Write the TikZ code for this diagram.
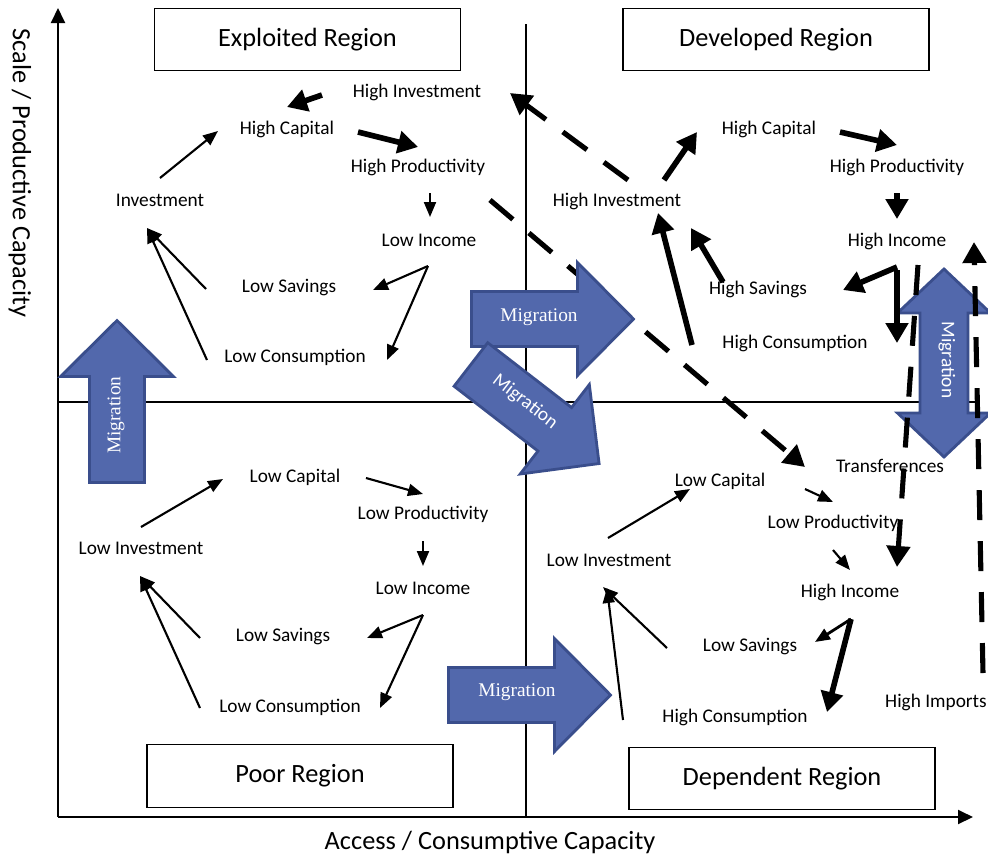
\documentclass[tikz,border=0pt]{standalone}
\usepackage{fontspec}
\setmainfont{Carlito}
\newfontfamily\timesfont{Liberation Serif}
\usetikzlibrary{arrows.meta,calc}
\definecolor{migfill}{HTML}{5268AC}
\definecolor{migedge}{HTML}{3A4E8C}

\begin{document}
\begin{tikzpicture}[x=0.02cm,y=-0.02cm,
  lbl/.style={font=\fontsize{11}{13}\selectfont,inner sep=1pt},
  region/.style={draw,line width=0.8pt,minimum width=6.12cm,minimum height=1.25cm,font=\fontsize{15}{18}\selectfont},
  axis/.style={line width=1.1pt,-{Triangle[length=0.3cm,width=0.28cm]}},
  tarrow/.style={line width=1.2pt,-{Triangle[length=0.3cm,width=0.24cm]}},
  barrow/.style={line width=3.2pt,-{Triangle[length=0.4cm,width=0.44cm]}},
  darrow/.style={line width=2.9pt,dash pattern=on 0.6cm off 0.42cm,-{Triangle[length=0.42cm,width=0.46cm]}},
  migr/.style={fill=migfill,draw=migedge,line width=1.6pt},
  migtxt/.style={text=white,inner sep=0pt,font=\fontsize{11}{13}\selectfont}]
\useasboundingbox (0,0) rectangle (988,860);

% axes and quadrants
\coordinate (O) at (58,817);
\coordinate (ytop) at (58,8);
\coordinate (xend) at (973,817);
\coordinate (vtop) at (526,24);
\coordinate (vbot) at (526,817);
\coordinate (hleft) at (58,402);
\coordinate (hright) at (975,402);
\draw[line width=0.8pt] (vtop) -- (vbot);
\draw[line width=0.8pt] (hleft) -- (hright);
\draw[axis] (O) -- (ytop);
\draw[axis] (O) -- (xend);
\node[font=\fontsize{15}{18}\selectfont,rotate=-90] (ylab) at (20,173) {Scale / Productive Capacity};
\node[font=\fontsize{15}{18}\selectfont] (xlab) at (490,842) {Access / Consumptive Capacity};

% regions
\node[region] (expl) at (307.5,39.5) {Exploited Region};
\node[region] (devl) at (776,39.5) {Developed Region};
\node[region] (poor) at (300,776) {Poor Region};
\node[region] (depd) at (782,778.5) {Dependent Region};

% labels
\foreach \n/\x/\y/\t in {
  eHInv/417/92/High Investment, eHCap/287/129/High Capital, eHProd/418/167/High Productivity,
  eInv/160/200/Investment, eLInc/429/240/Low Income, eLSav/289/288/Low Savings, eLCons/295/357/Low Consumption,
  dHCap/769/129/High Capital, dHProd/897/167/High Productivity, dHInv/617/201/High Investment,
  dHInc/897/241/High Income, dHSav/758/289/High Savings, dHCons/795/343/High Consumption,
  pLCap/295/477/Low Capital, pLProd/423/514/Low Productivity, pLInv/141/548/Low Investment,
  pLInc/423/588/Low Income, pLSav/283/637/Low Savings, pLCons/290/707/Low Consumption,
  qLCap/720/481/Low Capital, qLProd/833/523/Low Productivity, qLInv/609/560/Low Investment,
  qHInc/850/592/High Income, qLSav/750/647/Low Savings, qHCons/735/717/High Consumption,
  qTrans/890/466/Transferences, qHImp/936/702/High Imports}{
  \node[lbl] (\n) at (\x,\y) {\t};
}

% two-way migration
\draw[migr,shift={(944,363)},rotate=90] (-94,0) -- (-50,-46.5) -- (-50,-24) -- (50,-24) -- (50,-46.5)
  -- (94,0) -- (50,46.5) -- (50,24) -- (-50,24) -- (-50,46.5) -- cycle;
\node[migtxt,rotate=-90] (mig5) at (947,360) {Migration};

% transfers between regions
\draw[darrow] ($(eHProd)+(72,33)$) -- ($(qLProd)+(-28,-56)$);
\draw[darrow] ($(dHInv)+(11,-21)$) -- ($(eHInv)+(93,1)$);
\draw[darrow] ($(dHInc)+(21,24)$) -- ($(qHInc)+(47,-25)$);
\draw[darrow] ($(qHImp)+(47,-29)$) -- ($(dHInc)+(77,1)$);

% migration arrows
\foreach \x/\y/\r in {117/401.5/90, 552.5/319/0, 535/414/-37.7, 529.5/695/0}
  \draw[migr,shift={(\x,\y)},rotate=\r] (-81,-27.5) -- (25,-27.5) -- (25,-56.5) -- (81,0)
    -- (25,56.5) -- (25,27.5) -- (-81,27.5) -- cycle;
\node[migtxt,font=\timesfont\fontsize{11}{13}\selectfont,rotate=90] (mig1) at (116,415) {Migration};
\node[migtxt,font=\timesfont\fontsize{11}{13}\selectfont] (mig2) at (539,317) {Migration};
\node[migtxt,rotate=-37.7] (mig3) at (525,402) {Migration};
\node[migtxt,font=\timesfont\fontsize{11}{13}\selectfont] (mig4) at (517,692) {Migration};

% exploited region
\draw[barrow] ($(eHInv)+(-95,3)$) -- ($(eHCap)+(0,-22)$);
\draw[tarrow] ($(eInv)+(0,-22)$) -- ($(eHCap)+(-69,2)$);
\draw[barrow] ($(eHCap)+(71,3)$) -- ($(eHProd)+(0,-20)$);
\draw[tarrow] ($(eHProd)+(12,26)$) -- ($(eLInc)+(1,-23)$);
\draw[tarrow] ($(eLInc)+(-1,26)$) -- ($(eLSav)+(84,2)$);
\draw[tarrow] ($(eLInc)+(-1,26)$) -- ($(eLCons)+(92,3)$);
\draw[tarrow] ($(eLSav)+(-83,1)$) -- ($(eInv)+(-13,28)$);
\draw[tarrow] ($(eLCons)+(-88,3)$) -- ($(eInv)+(-13,28)$);

% developed region
\draw[barrow] ($(dHInv)+(47,-21)$) -- ($(dHCap)+(-72,3)$);
\draw[barrow] ($(dHCap)+(71,3)$) -- ($(dHProd)+(0,-22)$);
\draw[barrow] ($(dHProd)+(0,26)$) -- ($(dHInc)+(0,-22)$);
\draw[barrow] ($(dHInc)+(0,26)$) -- ($(dHSav)+(85,1)$);
\draw[barrow] ($(dHInc)+(0,29)$) -- ($(dHCons)+(102,0)$);
\draw[barrow] ($(dHSav)+(-35,-7)$) -- ($(dHInv)+(74,27)$);
\draw[barrow] ($(dHCons)+(-103,2)$) -- ($(dHInv)+(41,12)$);

% poor region
\draw[tarrow] ($(pLInv)+(0,-21)$) -- ($(pLCap)+(-72,2)$);
\draw[tarrow] ($(pLCap)+(71,1)$) -- ($(pLProd)+(0,-20)$);
\draw[tarrow] ($(pLProd)+(0,27)$) -- ($(pLInc)+(0,-22)$);
\draw[tarrow] ($(pLInc)+(0,27)$) -- ($(pLSav)+(84,1)$);
\draw[tarrow] ($(pLInc)+(0,27)$) -- ($(pLCons)+(90,1)$);
\draw[tarrow] ($(pLSav)+(-83,1)$) -- ($(pLInv)+(-1,28)$);
\draw[tarrow] ($(pLCons)+(-90,1)$) -- ($(pLInv)+(-1,28)$);

% dependent region
\draw[tarrow] ($(qLInv)+(-1,-22)$) -- ($(qLCap)+(-30,8)$);
\draw[tarrow] ($(qLCap)+(85,8)$) -- ($(qLProd)+(0,-21)$);
\draw[tarrow] ($(qLProd)+(0,27)$) -- ($(qHInc)+(0,-22)$);
\draw[tarrow,line width=1.6pt] ($(qHInc)+(1,27)$) -- ($(qLSav)+(65,-5)$);
\draw[barrow] ($(qHInc)+(1,27)$) -- ($(qHCons)+(92,-5)$);
\draw[tarrow] ($(qLSav)+(-83,1)$) -- ($(qLInv)+(-6,27)$);
\draw[tarrow] ($(qHCons)+(-112,3)$) -- ($(qLInv)+(-2,28)$);
\end{tikzpicture}
\end{document}
